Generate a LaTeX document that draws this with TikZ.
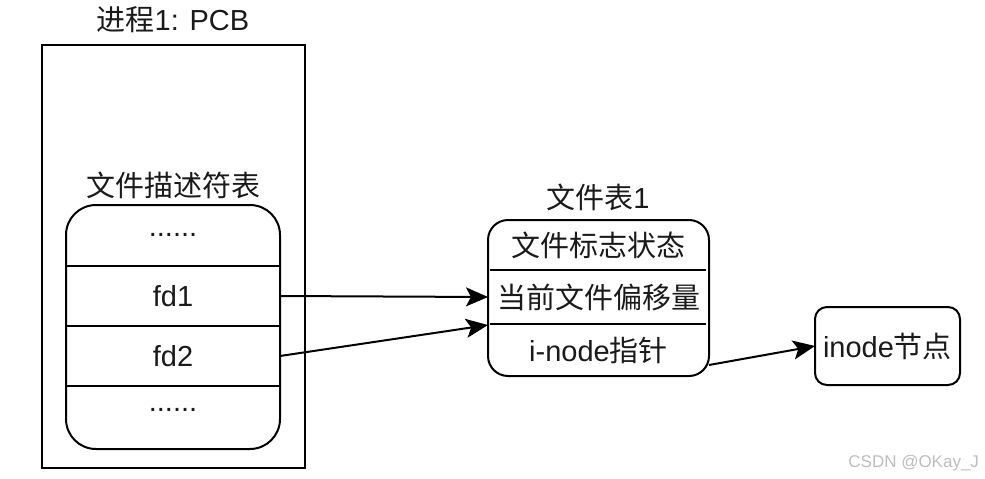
\documentclass[tikz,border=0pt]{standalone}
\usepackage{fontspec}
\setmainfont{Liberation Sans}
\newfontfamily\cjk{Noto Sans CJK SC}
\newcommand{\zh}[1]{{\cjk #1}}
\usetikzlibrary{arrows.meta,calc}
\definecolor{ink}{HTML}{1A1A1A}
\definecolor{mark}{HTML}{BDBDBD}
\begin{document}
\begin{tikzpicture}[x=1pt,y=-1pt,line width=2pt,
  every node/.style={font=\fontsize{29}{33}\selectfont,text=ink,inner sep=0pt,outer sep=0pt},
  frame/.style={draw=black},
  fdrow/.style={minimum width=214pt,minimum height=60pt},
  ftrow/.style={minimum width=221pt,minimum height=52pt},
  link/.style={draw=black,line width=2pt,-{Stealth[length=22pt,width=19pt,inset=5pt]}}]
  \useasboundingbox (0,0) rectangle (985,479);

  % process control block
  \node[frame,minimum width=263pt,minimum height=423pt] (pcb) at (173.5,256.5) {};
  \node (pcbtitle) at (173,20) {\zh{进程}1: PCB};

  % file descriptor table
  \node (fdtitle) at (173,185) {\zh{文件描述符表}};
  \node[frame,rounded corners=30pt,minimum width=214pt,minimum height=244pt] (fdt) at (173,327) {};
  \node[fdrow] (r1) at (173,236) {};
  \node[fdrow] (r2) at (173,296) {fd1};
  \node[fdrow] (r3) at (173,356) {fd2};
  \node[fdrow] (r4) at (173,417) {};
  \node (dots1) at (173,235) {......};
  \node (dots2) at (173,410) {......};
  \foreach \y in {266,326,386}
    \draw (fdt.west |- 0,\y) -- (fdt.east |- 0,\y);

  % open file table
  \node (fttitle) at (598,197) {\zh{文件表}1};
  \node[frame,rounded corners=20pt,minimum width=221pt,minimum height=156pt] (ft) at (598.5,298) {};
  \node[ftrow] (f1) at (598.5,245) {\zh{文件标志状态}};
  \node[ftrow] (f2) at (598.5,297) {\zh{当前文件偏移量}};
  \node[ftrow] (f3) at (598.5,350) {i-node\zh{指针}};
  \draw (490,270) -- (706,270);
  \draw (490,324) -- (706,324);

  % inode
  \node[frame,rounded corners=12pt,minimum width=145pt,minimum height=78pt] (ino) at (887.5,346) {inode\zh{节点}};

  % pointers
  \coordinate (ftout) at ($(ft.south east)+(0,-11)$);
  \draw[link] (r2.east) -- (f2.west);
  \draw[link] (r3.east) -- ($(f2.south west)+(0,2)$);
  \draw[link] (ftout) -- (ino.west);

  % watermark
  \node[font=\fontsize{17}{20}\selectfont,text=mark,anchor=east] (wm) at (979,463) {CSDN @OKay\_J};
\end{tikzpicture}
\end{document}
